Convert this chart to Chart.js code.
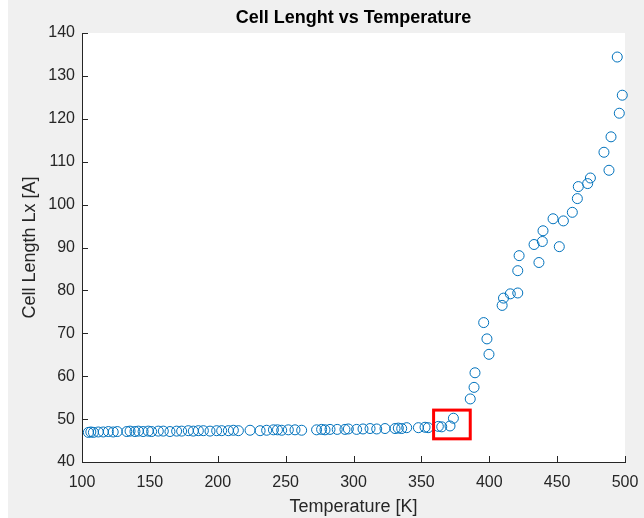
<!DOCTYPE html>
<html>
<head>
<meta charset="utf-8">
<script src="https://cdn.jsdelivr.net/npm/chart.js@4"></script>
<style>
  html, body { margin: 0; padding: 0; background: #ffffff; }
  canvas { display: block; }
</style>
</head>
<body>
<canvas id="cellChart" width="644" height="518"></canvas>
<script>
// Temperature [K] and cell length Lx [A]
const temperatures = [
  104.7, 106.5, 108.4, 112.0, 115.7, 119.4, 123.0, 126.0, 133.0, 135.4,
  139.0, 141.5, 145.0, 148.8, 151.3, 156.2, 159.9, 164.8, 169.7, 173.4,
  178.3, 182.0, 185.7, 189.4, 194.3, 199.2, 202.9, 207.8, 211.5, 215.2,
  223.8, 231.2, 236.0, 241.0, 244.0, 247.1, 252.0, 256.9, 261.8, 272.8,
  276.5, 279.0, 282.7, 288.0, 293.7, 296.2, 302.3, 307.0, 312.2, 317.1,
  323.2, 330.6, 333.0, 335.5, 339.2, 347.8, 352.7, 355.0, 362.5, 365.0,
  371.1, 373.6,
  386.0, 388.8, 389.5, 395.9, 398.3, 399.8, 409.5, 410.5, 415.5, 421.0,
  421.0, 422.0, 433.0, 436.6, 439.1, 439.6, 447.0, 451.6, 454.6, 461.2,
  464.9, 465.6, 472.5, 474.5, 484.5, 488.2, 489.7, 494.3, 495.8, 498.0
];
const cellLengths = [
  46.9, 47.0, 46.9, 47.0, 47.0, 47.1, 47.0, 47.1, 47.1, 47.2,
  47.1, 47.2, 47.1, 47.2, 47.1, 47.2, 47.2, 47.1, 47.2, 47.2,
  47.3, 47.2, 47.3, 47.3, 47.2, 47.3, 47.3, 47.3, 47.4, 47.3,
  47.4, 47.3, 47.4, 47.5, 47.5, 47.4, 47.5, 47.5, 47.4, 47.5,
  47.6, 47.5, 47.6, 47.6, 47.6, 47.7, 47.6, 47.7, 47.8, 47.7,
  47.8, 47.8, 47.9, 47.8, 48.0, 48.0, 48.1, 48.0, 48.3, 48.2,
  48.4, 50.2,
  54.7, 57.4, 60.8, 72.5, 68.7, 65.1, 76.5, 78.2, 79.2, 79.4,
  84.6, 88.1, 90.7, 86.5, 91.4, 93.9, 96.7, 90.2, 96.2, 98.2,
  101.4, 104.2, 104.9, 106.2, 112.2, 108.0, 115.8, 134.4, 121.3, 125.5
];

const xTicks = [100, 150, 200, 250, 300, 350, 400, 450, 500];
const yTicks = [40, 50, 60, 70, 80, 90, 100, 110, 120, 130, 140];

// red highlight box, in data units
const boxTemp = [359, 386];
const boxLength = [45.4, 52.1];

const axisColor = '#262626';
const fontFamily = '"Liberation Sans", Arial, Helvetica, sans-serif';

const points = temperatures.map((t, i) => ({ x: t, y: cellLengths[i] }));

// MATLAB-style figure: grey background, white axes, inward ticks, title
const figurePlugin = {
  id: 'figureStyle',
  beforeDraw(chart) {
    const { ctx, chartArea } = chart;
    ctx.save();
    ctx.fillStyle = '#f0f0f0';
    ctx.fillRect(8, 0, chart.width - 8, chart.height);
    ctx.fillStyle = '#ffffff';
    ctx.fillRect(chartArea.left, chartArea.top,
      chartArea.right - chartArea.left, chartArea.bottom - chartArea.top);
    ctx.restore();
  },
  afterDraw(chart) {
    const { ctx, chartArea } = chart;
    const xScale = chart.scales.x;
    const yScale = chart.scales.y;
    ctx.save();

    // inward ticks
    ctx.strokeStyle = axisColor;
    ctx.lineWidth = 1;
    ctx.beginPath();
    xTicks.forEach(v => {
      const px = Math.round(xScale.getPixelForValue(v)) + 0.5;
      ctx.moveTo(px, chartArea.bottom);
      ctx.lineTo(px, chartArea.bottom - 6);
    });
    yTicks.forEach(v => {
      const py = Math.round(yScale.getPixelForValue(v)) + 0.5;
      ctx.moveTo(chartArea.left, py);
      ctx.lineTo(chartArea.left + 6, py);
    });
    ctx.stroke();

    // highlight box
    const x0 = xScale.getPixelForValue(boxTemp[0]);
    const x1 = xScale.getPixelForValue(boxTemp[1]);
    const y0 = yScale.getPixelForValue(boxLength[1]);
    const y1 = yScale.getPixelForValue(boxLength[0]);
    ctx.strokeStyle = '#ff0000';
    ctx.lineWidth = 3;
    ctx.strokeRect(x0, y0, x1 - x0, y1 - y0);

    // title
    ctx.fillStyle = '#000000';
    ctx.font = 'bold 18px ' + fontFamily;
    ctx.textAlign = 'center';
    ctx.textBaseline = 'middle';
    ctx.fillText('Cell Lenght vs Temperature', (chartArea.left + chartArea.right) / 2, 18);
    ctx.restore();
  }
};

new Chart(document.getElementById('cellChart').getContext('2d'), {
  type: 'scatter',
  data: {
    datasets: [{
      label: 'Lx',
      data: points,
      pointStyle: 'circle',
      pointRadius: 5,
      pointHoverRadius: 5,
      pointBorderWidth: 1,
      borderColor: '#0072BD',
      backgroundColor: 'rgba(0,0,0,0)',
      clip: false
    }]
  },
  options: {
    responsive: false,
    animation: false,
    layout: {
      autoPadding: false,
      padding: { left: 0, top: 33, right: 19, bottom: 0 }
    },
    plugins: {
      legend: { display: false },
      tooltip: { enabled: false },
      title: { display: false }
    },
    scales: {
      x: {
        type: 'linear',
        min: 100,
        max: 500,
        afterFit(scale) {
          scale.height = 56;
          scale.paddingLeft = 0;
          scale.paddingRight = 0;
        },
        afterBuildTicks(scale) { scale.ticks = xTicks.map(v => ({ value: v })); },
        grid: { drawOnChartArea: false, drawTicks: false },
        border: { display: true, color: axisColor, width: 1 },
        ticks: {
          color: axisColor,
          padding: 11,
          maxRotation: 0,
          font: { family: fontFamily, size: 16 }
        },
        title: {
          display: true,
          text: 'Temperature [K]',
          color: axisColor,
          padding: 0,
          font: { family: fontFamily, size: 18 }
        }
      },
      y: {
        type: 'linear',
        min: 40,
        max: 140,
        afterFit(scale) {
          scale.width = 82;
          scale.paddingTop = 0;
          scale.paddingBottom = 0;
        },
        afterBuildTicks(scale) { scale.ticks = yTicks.map(v => ({ value: v })); },
        grid: { drawOnChartArea: false, drawTicks: false },
        border: { display: true, color: axisColor, width: 1 },
        ticks: {
          color: axisColor,
          padding: 7,
          font: { family: fontFamily, size: 16 }
        },
        title: {
          display: true,
          text: 'Cell Length Lx [A]',
          color: axisColor,
          padding: 19,
          font: { family: fontFamily, size: 18 }
        }
      }
    }
  },
  plugins: [figurePlugin]
});
</script>
</body>
</html>
